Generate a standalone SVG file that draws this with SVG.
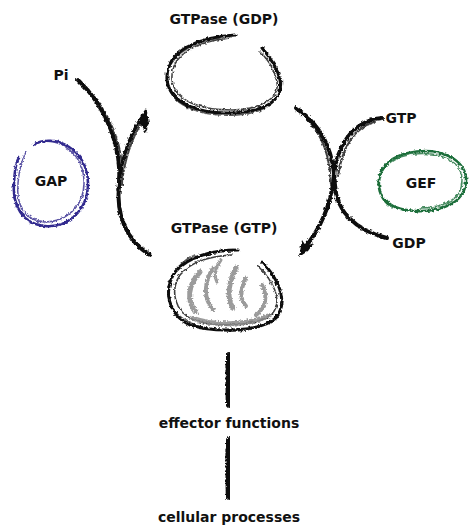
<svg xmlns="http://www.w3.org/2000/svg" width="469" height="526" viewBox="0 0 469 526">
<defs>
<filter id="rough" x="-10%" y="-10%" width="120%" height="120%">
<feTurbulence type="fractalNoise" baseFrequency="0.35" numOctaves="2" seed="3" result="n"/>
<feDisplacementMap in="SourceGraphic" in2="n" scale="3.5" xChannelSelector="R" yChannelSelector="G"/>
</filter>
<filter id="rough2" x="-10%" y="-10%" width="120%" height="120%">
<feTurbulence type="fractalNoise" baseFrequency="0.6" numOctaves="2" seed="7" result="n"/>
<feDisplacementMap in="SourceGraphic" in2="n" scale="4" xChannelSelector="R" yChannelSelector="G"/>
</filter>
</defs>
<style>
text{font-family:"DejaVu Sans","Liberation Sans",sans-serif;font-size:14px;font-weight:bold;fill:#111;}
.k{fill:none;stroke:#111;stroke-linecap:round;}
.g{fill:none;stroke:#8a8a8a;stroke-linecap:round;}
.b{fill:none;stroke:#332b8f;stroke-linecap:round;}
.e{fill:none;stroke:#1c6e3a;stroke-linecap:round;}
</style>
<rect width="469" height="526" fill="#fff"/>

<g id="gtpase-gdp">
<text x="224" y="24" text-anchor="middle">GTPase (GDP)</text>
<g filter="url(#rough)">
<path class="k" stroke-width="3" d="M235 35 C200 37 165 50 167 80 C170 104 200 114 232 113 C265 112 284 100 280 80 C277 66 269 56 262 48"/>
<path class="k" stroke-width="1.6" opacity="0.8" d="M230 38 C198 41 170 54 172 80 C175 102 202 110 232 110 C262 109 280 98 277 82 C274 68 267 58 260 52"/>
<path class="k" stroke-width="1.4" opacity="0.7" d="M220 38 C190 42 163 58 168 85 C173 108 205 117 236 115 C268 113 285 98 281 77"/>
</g>
</g>

<g id="gtpase-gtp">
<text x="224" y="233" text-anchor="middle">GTPase (GTP)</text>
<g filter="url(#rough)">
<path class="k" stroke-width="3" d="M262 262 C276 276 290 300 276 318 C261 332 215 333 190 325 C168 315 163 290 175 272 C188 256 215 250 238 250"/>
<path class="k" stroke-width="1.6" opacity="0.8" d="M258 266 C272 280 284 300 272 314 C258 326 216 328 194 320 C174 312 170 290 180 275 C192 260 212 256 232 255"/>
<path class="k" stroke-width="1.5" opacity="0.7" d="M195 255 C178 262 164 282 169 300 C174 320 200 330 230 331 C258 332 282 320 283 300"/>
</g>
<g filter="url(#rough2)" opacity="0.85">
<path class="g" stroke-width="5" stroke="#999" d="M200 272 C188 285 186 300 196 312"/>
<path class="g" stroke-width="4" stroke="#a0a0a0" d="M213 268 C204 282 203 298 213 310"/>
<path class="g" stroke-width="5" stroke="#bdbdbd" d="M236 268 C229 282 226 298 233 308"/>
<path class="g" stroke-width="4" stroke="#cfcfcf" d="M246 278 C240 290 240 300 246 306"/>
<path class="g" stroke-width="4" stroke="#9a9a9a" d="M262 285 C268 296 266 308 256 315"/>
<path class="g" stroke-width="5" stroke="#777" d="M192 318 C215 326 245 326 268 316"/>
<path class="g" stroke-width="3" stroke="#aaa" d="M221 260 C215 268 214 276 217 282"/>
</g>
</g>

<g id="gap">
<text x="51" y="186" text-anchor="middle">GAP</text>
<g filter="url(#rough)">
<path class="b" stroke-width="2.6" d="M33 145 C55 132 88 150 88 183 C88 212 66 228 45 226 C22 224 12 205 14 182 C15 168 17 160 19 158"/>
<path class="b" stroke-width="1.5" opacity="0.8" d="M36 143 C60 136 84 154 84 183 C84 208 64 222 45 222 C24 221 16 204 18 183 C19 170 22 160 26 152"/>
</g>
</g>

<g id="gef">
<text x="421" y="188" text-anchor="middle">GEF</text>
<g filter="url(#rough)">
<path class="e" stroke-width="2.6" d="M388 204 C372 190 375 160 408 153 C440 146 468 160 466 182 C464 204 440 212 415 211 C400 210 390 206 386 200"/>
<path class="e" stroke-width="1.5" opacity="0.8" d="M392 208 C376 196 372 168 400 157 C432 148 462 158 462 180 C462 200 444 208 420 208"/>
</g>
</g>

<g id="pi"><text x="61" y="80" text-anchor="middle">Pi</text></g>
<g id="gtp-label"><text x="401" y="123" text-anchor="middle">GTP</text></g>
<g id="gdp-label"><text x="409" y="248" text-anchor="middle">GDP</text></g>
<g id="effector"><text x="229" y="428" text-anchor="middle">effector functions</text></g>
<g id="cellular"><text x="229" y="522" text-anchor="middle">cellular processes</text></g>

<g id="connectors">
<g filter="url(#rough)">
<path class="k" stroke-width="4" d="M78 80 C108 108 122 150 119 185 C116 215 126 240 150 255"/>
<path class="k" stroke-width="2" opacity="0.8" d="M82 84 C112 112 125 150 122 185"/>
<path class="k" stroke-width="3.5" d="M118 190 C121 155 133 128 145 114"/>
<path class="k" stroke-width="2" opacity="0.8" d="M123 175 C127 150 136 130 144 120"/>
<path fill="#111" d="M146 108 L136 124 L141 124 L146 133 L149 122 Z"/>
<path class="k" stroke-width="4" d="M296 108 C328 130 334 160 335 185 C336 210 354 230 387 238"/>
<path class="k" stroke-width="2" opacity="0.8" d="M300 112 C325 134 330 160 331 185"/>
<path class="k" stroke-width="4" d="M382 118 C350 121 336 150 334 176 C331 208 318 232 303 250"/>
<path class="k" stroke-width="2" opacity="0.8" d="M375 122 C352 128 342 150 338 176"/>
<path fill="#111" d="M299 257 L302 240 L306 246 L314 243 L308 251 Z"/>
</g>
<g filter="url(#rough2)">
<path class="k" stroke-width="6" d="M229 355 L229 405"/>
<path class="k" stroke-width="3" opacity="0.6" d="M226 365 L227 402"/>
<path class="k" stroke-width="6" d="M229 440 L229 497"/>
<path class="k" stroke-width="3" opacity="0.6" d="M226 450 L227 494"/>
</g>
</g>
</svg>
